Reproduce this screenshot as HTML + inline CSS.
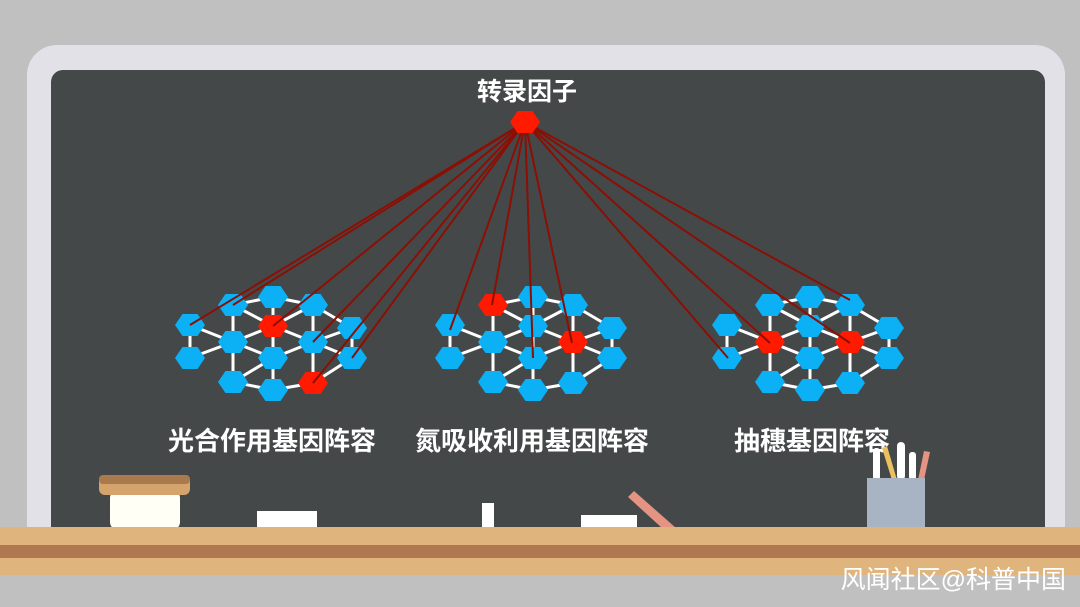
<!DOCTYPE html>
<html><head><meta charset="utf-8"><style>
body{margin:0;width:1080px;height:607px;overflow:hidden;background:#c0c0c0}
</style></head><body>
<svg id="s" width="1080" height="607" xmlns="http://www.w3.org/2000/svg" style="position:absolute;left:0;top:0">
<rect x="0" y="0" width="1080" height="607" fill="#c0c0c0"/>
<rect x="27" y="45" width="1038" height="520" rx="30" fill="#e1e1e7"/>
<rect x="51" y="70" width="994" height="470" rx="12" fill="#454849"/>
<g id="g"></g>
<text x="527" y="100" fill="#fff" font-size="25" font-weight="bold" font-family="Liberation Sans,Noto Sans CJK SC,sans-serif" text-anchor="middle">转录因子</text>
<g font-size="26" font-weight="bold" fill="#fff" font-family="Liberation Sans,Noto Sans CJK SC,sans-serif" text-anchor="middle">
<text x="272" y="450">光合作用基因阵容</text>
<text x="532" y="450">氮吸收利用基因阵容</text>
<text x="812" y="450">抽穗基因阵容</text>
</g>
<rect x="110" y="490" width="70" height="40" rx="8" fill="#fffff6"/>
<rect x="99" y="475" width="91" height="20" rx="6" fill="#d4a46c"/>
<rect x="99" y="475" width="91" height="9" rx="4" fill="#a97a4e"/>
<rect x="257" y="511" width="60" height="17" fill="#fff"/>
<rect x="482" y="503" width="12" height="25" fill="#fff"/>
<rect x="581" y="515" width="56" height="13" fill="#fff"/>
<polygon points="628,497 634,491 676,528 662,528" fill="#e59483"/>
<rect x="873" y="448" width="7" height="32" rx="3" fill="#fff"/>
<polygon points="882,448 887,446 897,480 892,480" fill="#e9c15e"/>
<rect x="897" y="442" width="8" height="38" rx="4" fill="#fff"/>
<rect x="909" y="452" width="7" height="28" rx="3" fill="#fff"/>
<polygon points="918,480 924,451 930,452 924,480" fill="#e59483"/>
<rect x="867" y="478" width="58" height="50" fill="#a8b4c4"/>
<rect x="0" y="527" width="1080" height="18" fill="#dfb47d"/>
<rect x="0" y="545" width="1080" height="13" fill="#b07850"/>
<rect x="0" y="558" width="1080" height="17" fill="#dfb47d"/>
<text x="1066" y="588" fill="#fff" font-size="25" font-family="Liberation Sans,Noto Sans CJK SC,sans-serif" text-anchor="end">风闻社区@科普中国</text>
</svg>
<script>
var g=document.getElementById('g');
var cols=[[325,358],[305,342,382],[297,326,358,390],[305,342,383],[328,358]];
var dx=[-83,-40,0,40,79];
var clusters=[{c:273,r:[[2,1],[3,2]]},{c:533,r:[[1,0],[3,1]]},{c:810,r:[[1,1],[3,1]]}];
function hex(x,y,f){var w=15,hh=11;return '<polygon points="'+(x-w)+','+y+' '+(x-w/2)+','+(y-hh)+' '+(x+w/2)+','+(y-hh)+' '+(x+w)+','+y+' '+(x+w/2)+','+(y+hh)+' '+(x-w/2)+','+(y+hh)+'" fill="'+f+'"/>';}
var edges='',hexes='';
clusters.forEach(function(cl){
 var pts=[];
 cols.forEach(function(col,i){col.forEach(function(y,j){var red=cl.r.some(function(r){return r[0]==i&&r[1]==j});pts.push([cl.c+dx[i],y,red]);});});
 for(var a=0;a<pts.length;a++)for(var b=a+1;b<pts.length;b++){var d=Math.hypot(pts[a][0]-pts[b][0],pts[a][1]-pts[b][1]);if(d<47)edges+='<line x1="'+pts[a][0]+'" y1="'+pts[a][1]+'" x2="'+pts[b][0]+'" y2="'+pts[b][1]+'" stroke="#fff" stroke-width="3"/>';}
 pts.forEach(function(p){hexes+=hex(p[0],p[1],p[2]?'#ff1a00':'#0cb0f5');});
});
var targets=[[190,325],[273,326],[313,342],[313,383],[352,358],[233,305],[450,330],[492,305],[533,358],[572,343],[728,358],[770,343],[850,343],[850,300]];
var lines='';targets.forEach(function(t){lines+='<line x1="525" y1="122" x2="'+t[0]+'" y2="'+t[1]+'" stroke="#8b0f05" stroke-width="2"/>';});
g.innerHTML=edges+hexes+lines+hex(525,122,'#ff1a00');
</script>
</body></html>
